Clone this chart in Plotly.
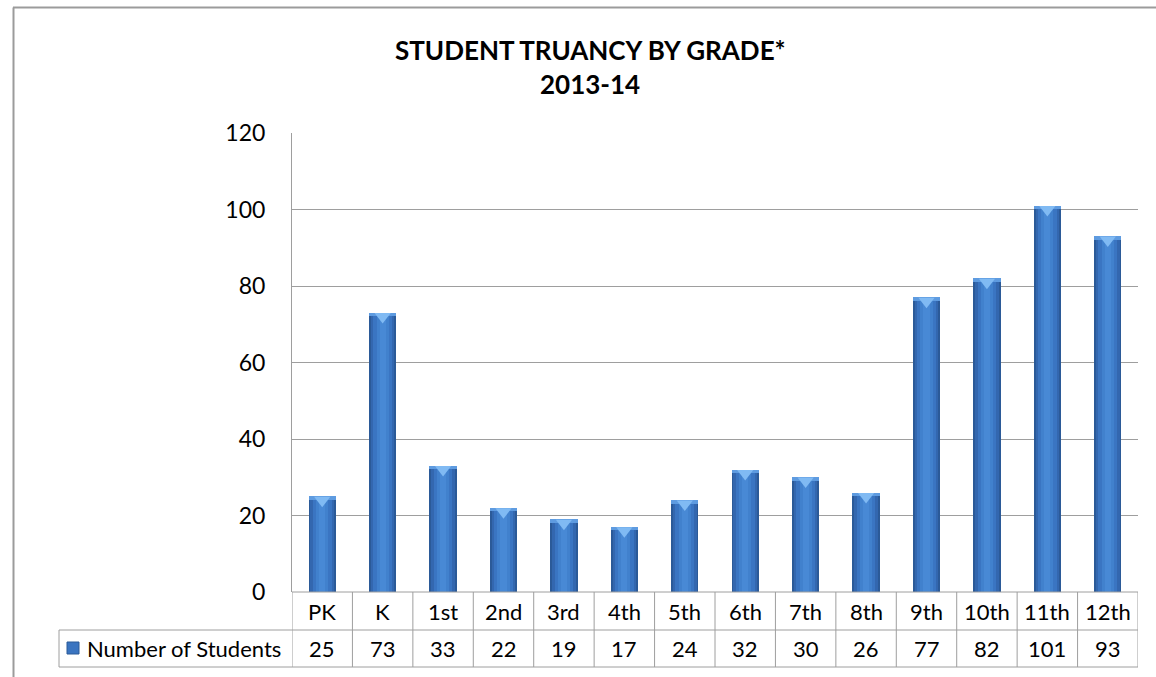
import plotly.graph_objects as go

grades = ["PK", "K", "1st", "2nd", "3rd", "4th", "5th", "6th", "7th", "8th",
          "9th", "10th", "11th", "12th"]
students = [25, 73, 33, 22, 19, 17, 24, 32, 30, 26, 77, 82, 101, 93]
series_name = "Number of Students"
y_ticks = [0, 20, 40, 60, 80, 100, 120]

W, H = 1156, 677
# plot area in pixels
L, R, T, B = 292, 1138, 133, 592
ROW1, ROW2 = 630, 667   # bottoms of the two data-table rows
LEG_LEFT = 59

FONT = "Lato"
GRID = "#9e9e9e"


def py(p):
    # pixel row -> paper y
    return (B - p) / (B - T)


def px(p):
    # pixel column -> paper x
    return (p - L) / (R - L)


fig = go.Figure()

# bars: overlaid layers to fake the cylinder shading
for width, color in [(0.45, "#2b5a98"), (0.39, "#3367af"), (0.31, "#3a75c2"), (0.2, "#4181cd"), (0.1, "#4889d5")]:
    fig.add_trace(go.Bar(x=grades, y=students, width=width, marker=dict(color=color, line=dict(width=0)),
                         showlegend=False, hoverinfo="skip"))

# light bevel at the top of each bar
band = 0.9
fig.add_trace(go.Bar(x=grades, y=[band] * len(students), base=[v - band for v in students], width=0.45,
                     marker=dict(color="#5e9be0", line=dict(width=0)), showlegend=False, hoverinfo="skip"))
fig.add_trace(go.Scatter(x=grades, y=[v - 1.0 for v in students], mode="markers",
                         marker=dict(symbol="triangle-down", size=14, color="#80baf3", line=dict(width=0)),
                         showlegend=False, hoverinfo="skip"))

shapes = []
line = dict(color=GRID, width=1)
# data table grid
n = len(grades)
for i in range(n + 1):
    shapes.append(dict(type="line", xref="x", yref="paper", x0=i - 0.5, x1=i - 0.5,
                       y0=py(B), y1=py(ROW2), line=line))
shapes.append(dict(type="line", xref="paper", yref="paper", x0=0, x1=1, y0=py(B), y1=py(B), line=line))
for yy in (ROW1, ROW2):
    shapes.append(dict(type="line", xref="paper", yref="paper", x0=px(LEG_LEFT), x1=1,
                       y0=py(yy), y1=py(yy), line=line))
shapes.append(dict(type="line", xref="paper", yref="paper", x0=px(LEG_LEFT), x1=px(LEG_LEFT),
                   y0=py(ROW1), y1=py(ROW2), line=line))
# legend key in the table
shapes.append(dict(type="rect", xref="paper", yref="paper", x0=px(67), x1=px(79), y0=py(654), y1=py(642),
                   fillcolor="#3a74c0", line=dict(color="#2b5a98", width=1)))
# outer chart border (top and left edges visible)
shapes.append(dict(type="line", xref="paper", yref="paper", x0=px(13), x1=px(W + 5), y0=py(7.5), y1=py(7.5),
                   line=dict(color="#9b9b9b", width=2)))
shapes.append(dict(type="line", xref="paper", yref="paper", x0=px(13.5), x1=px(13.5), y0=py(7.5), y1=py(H + 5),
                   line=dict(color="#9b9b9b", width=2)))

annotations = []
mid1 = py((B + ROW1) / 2)
mid2 = py((ROW1 + ROW2) / 2)
cell_font = dict(family=FONT, size=22, color="#000")
for g, v in zip(grades, students):
    annotations.append(dict(x=g, y=mid1, xref="x", yref="paper", text=g, showarrow=False,
                            xanchor="center", yanchor="middle", font=cell_font))
    annotations.append(dict(x=g, y=mid2, xref="x", yref="paper", text=str(v), showarrow=False,
                            xanchor="center", yanchor="middle", font=cell_font))
annotations.append(dict(x=px(85), y=mid2, xref="paper", yref="paper", text=series_name, showarrow=False,
                        xanchor="left", yanchor="middle", font=cell_font))
title_font = dict(family=FONT, size=26, color="#000")
annotations.append(dict(x=px(590), y=py(50), xref="paper", yref="paper", text="<b>STUDENT TRUANCY BY GRADE*</b>",
                        showarrow=False, xanchor="center", yanchor="middle", font=title_font))
annotations.append(dict(x=px(590), y=py(84), xref="paper", yref="paper", text="<b>2013-14</b>",
                        showarrow=False, xanchor="center", yanchor="middle", font=title_font))

fig.update_layout(
    width=W, height=H,
    margin=dict(l=L, r=W - R, t=T, b=H - B),
    paper_bgcolor="white", plot_bgcolor="white",
    barmode="overlay", bargap=0,
    shapes=shapes, annotations=annotations,
    xaxis=dict(showticklabels=False, showgrid=False, zeroline=False, showline=False,
               range=[-0.5, n - 0.5], fixedrange=True),
    yaxis=dict(range=[0, 120], tickvals=y_ticks, showgrid=True, gridcolor=GRID, gridwidth=1,
               zeroline=False, showline=True, linecolor=GRID, linewidth=1,
               tickfont=dict(family=FONT, size=23, color="#000"), ticklabelstandoff=21),
)

fig.write_html("out.html", config={"displayModeBar": False},
               post_script="document.body.style.margin='0';")
